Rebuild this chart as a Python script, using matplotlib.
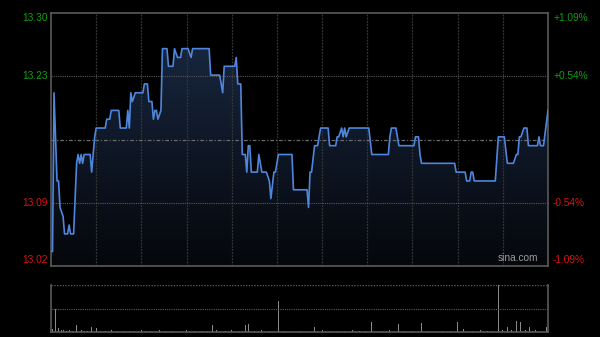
import matplotlib
matplotlib.use('Agg')
import matplotlib.pyplot as plt
from matplotlib.colors import LinearSegmentedColormap
import numpy as np

# intraday price (minute index from 9:30, 330 trading minutes)
minutes = [0, 1, 2, 4, 5, 6, 8, 9, 11, 12, 13, 15, 17, 18, 19, 20, 21, 22, 26, 27,
           29, 30, 36, 37, 39, 40, 45, 46, 50, 51, 52, 53, 54, 56, 61, 62, 64, 65, 67, 68,
           69, 70, 71, 73, 74, 77, 78, 81, 82, 84, 86, 87, 91, 93, 94, 105, 106, 112, 114, 115,
           122, 123, 124, 126, 127, 129, 130, 131, 132, 133, 137, 138, 140, 143, 145, 146, 148, 149, 151, 160,
           161, 170, 171, 172, 173, 175, 177, 179, 184, 185, 189, 190, 191, 193, 194, 195, 196, 198, 211, 213,
           224, 225, 226, 229, 231, 241, 242, 244, 245, 246, 268, 269, 275, 276, 278, 279, 280, 281, 295, 297,
           301, 303, 307, 309, 310, 311, 312, 314, 316, 317, 323, 324, 325, 327, 330]
prices = [13.03, 13.03, 13.21, 13.11, 13.11, 13.08, 13.07, 13.05, 13.05, 13.06, 13.05, 13.05, 13.13, 13.14, 13.13, 13.14, 13.13, 13.14, 13.14, 13.12,
          13.16, 13.17, 13.17, 13.18, 13.18, 13.19, 13.19, 13.17, 13.17, 13.19, 13.17, 13.21, 13.20, 13.21, 13.21, 13.22, 13.22, 13.20, 13.20, 13.18,
          13.19, 13.19, 13.18, 13.19, 13.26, 13.26, 13.24, 13.24, 13.26, 13.25, 13.25, 13.26, 13.26, 13.25, 13.26, 13.26, 13.23, 13.23, 13.21, 13.24,
          13.24, 13.25, 13.22, 13.22, 13.14, 13.14, 13.12, 13.15, 13.15, 13.12, 13.12, 13.14, 13.12, 13.12, 13.11, 13.09, 13.12, 13.12, 13.14, 13.14,
          13.10, 13.10, 13.08, 13.12, 13.12, 13.15, 13.15, 13.17, 13.17, 13.15, 13.15, 13.16, 13.16, 13.17, 13.16, 13.17, 13.16, 13.17, 13.17, 13.14,
          13.14, 13.16, 13.17, 13.17, 13.15, 13.15, 13.16, 13.16, 13.14, 13.13, 13.13, 13.12, 13.12, 13.11, 13.11, 13.12, 13.12, 13.11, 13.11, 13.16,
          13.16, 13.13, 13.13, 13.14, 13.14, 13.16, 13.16, 13.17, 13.17, 13.15, 13.15, 13.16, 13.15, 13.15, 13.19]

# volume bars (minute index, lots)
vol_minutes = [1, 3, 5, 7, 8, 10, 12, 14, 17, 20, 22, 24, 27, 30, 33, 36, 40, 44, 48, 52,
               55, 60, 63, 66, 72, 76, 80, 85, 90, 95, 100, 104, 107, 110, 116, 120, 125, 129, 131, 135,
               140, 145, 151, 155, 158, 165, 168, 172, 175, 180, 185, 190, 195, 200, 205, 209, 213, 220, 225, 231,
               235, 240, 246, 250, 255, 260, 265, 270, 274, 280, 285, 290, 293, 297, 300, 303, 306, 309, 312, 315,
               318, 320, 322, 324, 326, 329]
vol_values = [60, 490, 80, 40, 50, 30, 40, 30, 150, 40, 25, 30, 100, 85, 30, 25, 40, 25, 30, 25,
              30, 40, 25, 30, 45, 25, 30, 60, 40, 30, 30, 25, 150, 40, 30, 40, 30, 150, 170, 30,
              40, 30, 660, 25, 40, 30, 25, 210, 100, 40, 30, 30, 30, 40, 30, 25, 210, 30, 40, 170,
              30, 30, 190, 30, 40, 30, 30, 210, 65, 30, 40, 30, 25, 1000, 40, 100, 40, 230, 210, 40,
              100, 30, 40, 30, 40, 110]

prev_close = 13.157
left_labels = ['13.02', '13.09', '', '13.23', '13.30']
right_labels = ['-1.09%', '-0.54%', '', '+0.54%', '+1.09%']
label_colors = ['#d41414', '#d41414', '#000000', '#10a010', '#10a010']

BG = '#000000'
FRAME = '#5a5a5a'
plt.rcParams['font.family'] = ['Liberation Sans', 'DejaVu Sans']

fig = plt.figure(figsize=(6, 3.37), dpi=100, facecolor=BG)
ax = fig.add_axes([51 / 600, 71 / 337, 497 / 600, 253 / 337], facecolor=BG)

lo = prev_close * (1 - 0.0109)
hi = prev_close * (1 + 0.0109)
ax.set_xlim(0, 330)
ax.set_ylim(lo, hi)

# gradient fill under the line
grad = np.linspace(0, 1, 256).reshape(-1, 1)
cmap = LinearSegmentedColormap.from_list('fill', ['#05070b', '#1a2a46'])
img = ax.imshow(grad, cmap=cmap, aspect='auto', origin='lower',
                extent=[0, 330, lo, hi], zorder=1)
poly = ax.fill_between(minutes, prices, lo, color='none', lw=0)
img.set_clip_path(poly.get_paths()[0], transform=ax.transData)

# grid
for m in range(30, 330, 30):
    ax.axvline(m, color='#363636', lw=0.9, ls=(0, (1.5, 1)), zorder=2)
step = (hi - lo) / 4
ax.axhline(lo + step, color='#585858', lw=0.8, ls=(0, (1, 1)), zorder=2)
ax.axhline(lo + 3 * step, color='#585858', lw=0.8, ls=(0, (1, 1)), zorder=2)
ax.axhline(prev_close, color='#6a6a6a', lw=0.9, ls=(0, (3, 1.5, 1, 1.5)), zorder=2)

ax.plot(minutes, prices, color='#4f86dc', lw=1.2, zorder=3)

for s in ax.spines.values():
    s.set_color(FRAME)
    s.set_linewidth(1.2)
ax.set_xticks([])
ax.set_yticks([])

# axis labels
ypos = [0.022, 0.25, 0.5, 0.75, 0.98]
for i in range(5):
    if not left_labels[i]:
        continue
    ax.text(-0.007, ypos[i], left_labels[i], transform=ax.transAxes, ha='right',
            va='center', color=label_colors[i], fontsize=7.3)
    ax.text(1.010, ypos[i], right_labels[i], transform=ax.transAxes, ha='left',
            va='center', color=label_colors[i], fontsize=7.3)

ax.text(0.98, 0.012, 'sina.com', transform=ax.transAxes, ha='right', va='bottom',
        color='#9a9a9a', fontsize=7.3, zorder=4)

# volume panel
vax = fig.add_axes([51 / 600, 5 / 337, 497 / 600, 47 / 337], facecolor=BG)
vax.set_xlim(0, 330)
vax.set_ylim(0, max(vol_values))
vax.bar(vol_minutes, vol_values, width=0.6, color='#8a8a8a', lw=0)
vax.axhline(max(vol_values) / 2, color='#5a5a5a', lw=0.8, ls=(0, (1, 1)))
vax.axhline(max(vol_values), color='#5a5a5a', lw=1.0, ls=(0, (1, 1)))
for k in ['left', 'right', 'bottom']:
    vax.spines[k].set_color(FRAME)
    vax.spines[k].set_linewidth(1.2)
vax.spines['top'].set_visible(False)
vax.set_xticks([])
vax.set_yticks([])

fig.savefig('out.png', dpi=100, facecolor=BG)
